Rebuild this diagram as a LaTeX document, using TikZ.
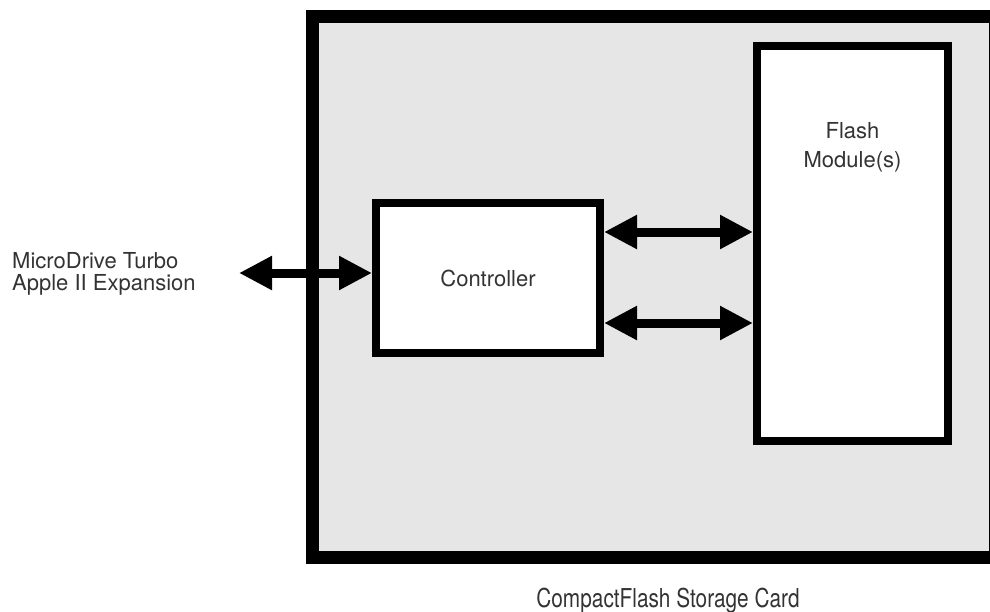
\documentclass[tikz,border=0pt]{standalone}
\usepackage{fontspec}
\setmainfont{TeX Gyre Heros}
\newfontfamily\condfont[FakeStretch=0.8]{TeX Gyre Heros}
\usetikzlibrary{arrows.meta}
\definecolor{cardgray}{HTML}{E6E6E6}
\definecolor{txt}{HTML}{333333}
\begin{document}
\begin{tikzpicture}[x=1pt,y=-1pt,
  box/.style={draw=black, fill=white, line width=8pt, inner sep=0pt},
  lbl/.style={text=txt, font=\fontsize{22}{22}\selectfont, inner sep=0pt},
  dbl/.style={line width=9pt, {Triangle[length=33pt,width=32pt]}-{Triangle[length=33pt,width=32pt]}}]
\useasboundingbox (0,0) rectangle (990,611);
\clip (0,0) rectangle (990,611);
\node[draw=black, fill=cardgray, line width=13pt, minimum width=683.5pt, minimum height=541.5pt, inner sep=0pt] (card) at (653.75,286.75) {};
\node[box, lbl, minimum width=224pt, minimum height=150pt] (ctrl) at (488,278) {Controller};
\node[box, minimum width=191pt, minimum height=395pt] (flash) at (852.5,243.5) {};
\node[lbl, align=center, anchor=base, font=\fontsize{22}{29}\selectfont] (flashtxt) at (852.5,167) {Flash\\Module(s)};
\node[lbl, align=left, anchor=base west] (host) at (12,290) {MicroDrive Turbo\\Apple II Expansion};
\coordinate (hostend) at (239,273);
\coordinate (b1) at (0,232);
\coordinate (b2) at (0,323);
\draw[dbl] (hostend) -- (ctrl.west |- hostend);
\draw[dbl] (ctrl.east |- b1) -- (flash.west |- b1);
\draw[dbl] (ctrl.east |- b2) -- (flash.west |- b2);
\node[text=txt, font=\condfont\fontsize{26}{26}\selectfont, anchor=base, inner sep=0pt] (cap) at (668,607) {CompactFlash Storage Card};
\end{tikzpicture}
\end{document}
